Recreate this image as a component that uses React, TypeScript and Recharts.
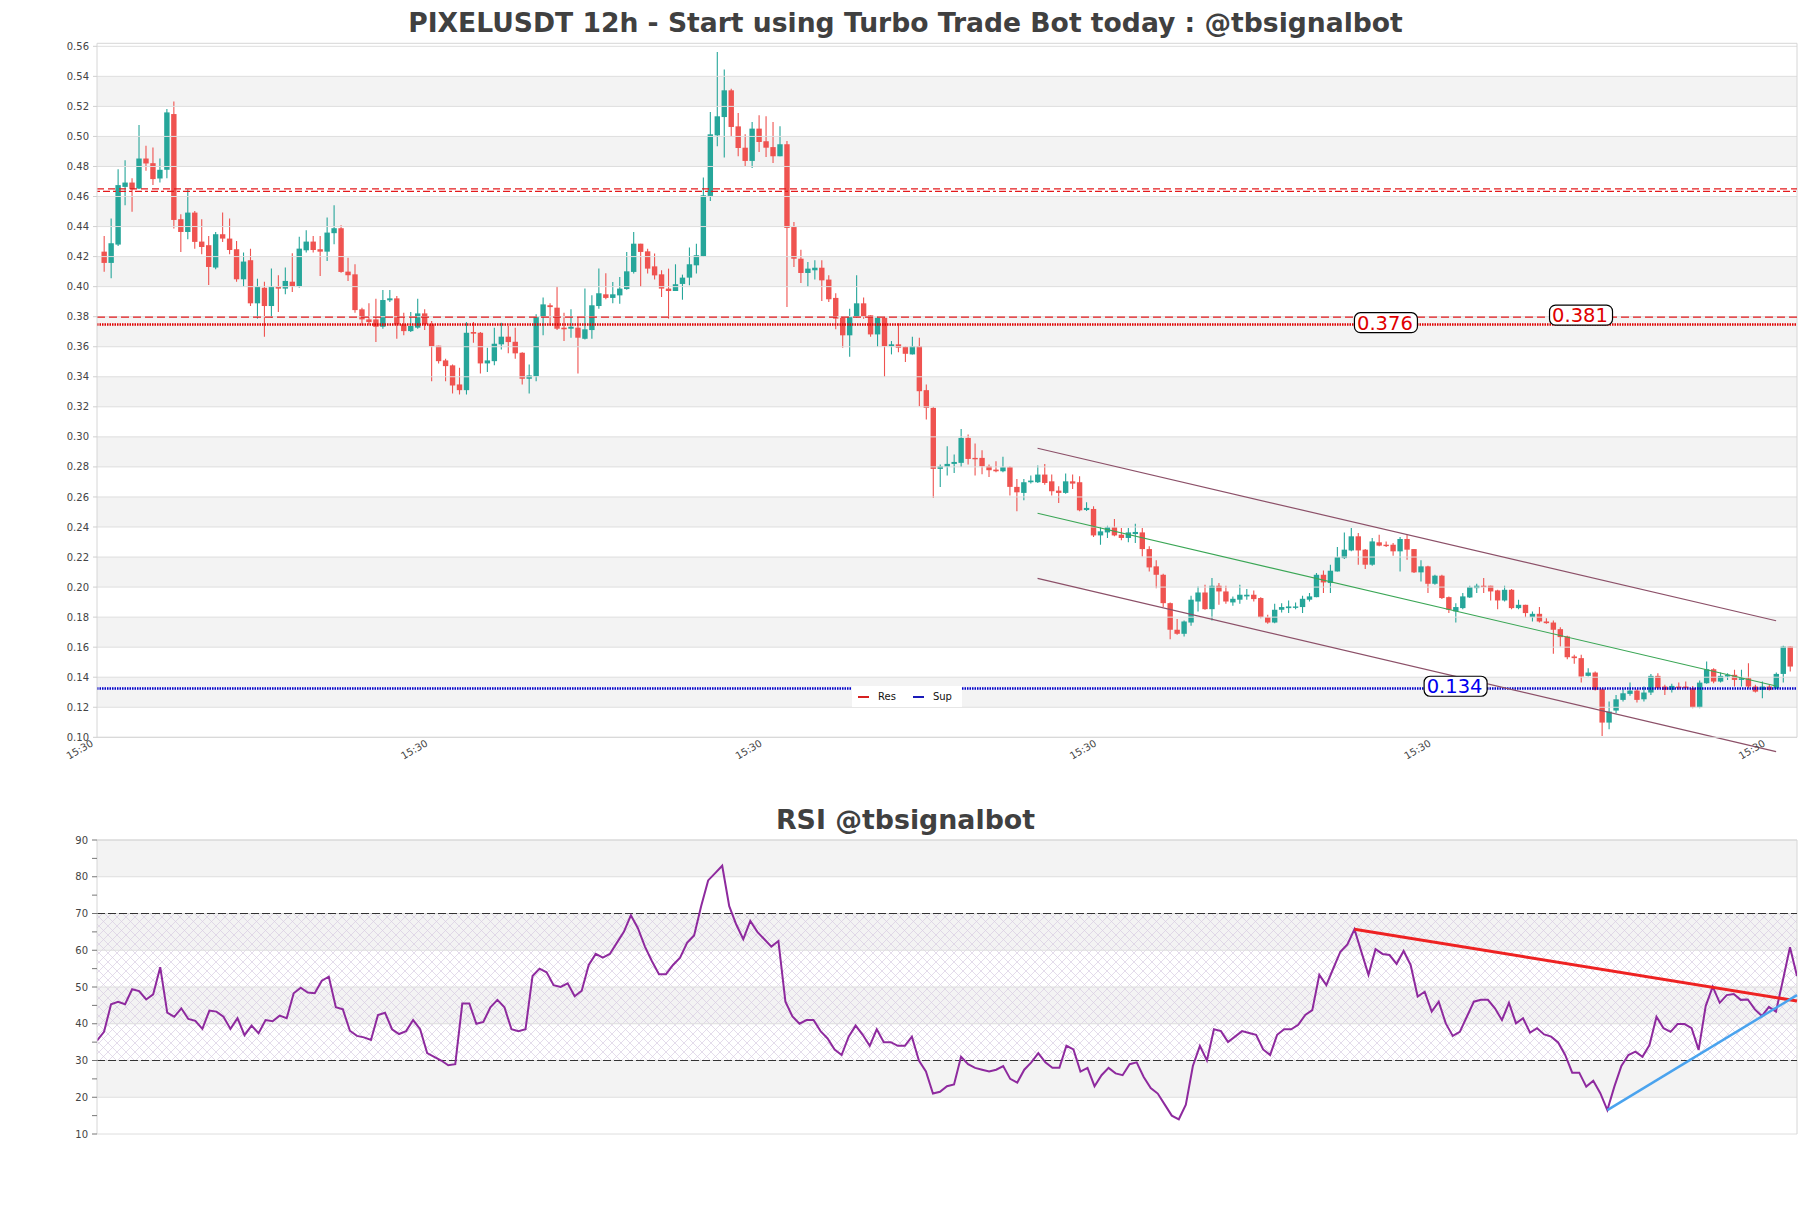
import React from 'react';
import {
  ComposedChart,
  LineChart,
  Line,
  Bar,
  XAxis,
  YAxis,
  ReferenceLine,
  ReferenceArea,
  ReferenceDot,
  Legend,
} from 'recharts';

// ---------------- DATA ----------------
const opens = [
  0.4233, 0.4158, 0.428, 0.4664, 0.4693, 0.4653, 0.4853, 0.4822, 0.472, 0.4778,
  0.5149, 0.4449, 0.4364, 0.4493, 0.43, 0.4276, 0.4127, 0.4349, 0.432, 0.4249,
  0.4049, 0.4176, 0.3889, 0.3993, 0.3871, 0.4, 0.3987, 0.4033, 0.4004, 0.4242,
  0.43, 0.4249, 0.4233, 0.4356, 0.4389, 0.41, 0.4082, 0.3849, 0.3782, 0.3782,
  0.3733, 0.3909, 0.3922, 0.3749, 0.3704, 0.3727, 0.3822, 0.3749, 0.3607, 0.3509,
  0.3476, 0.3349, 0.3311, 0.3698, 0.3693, 0.3489, 0.3504, 0.3616, 0.3667, 0.3633,
  0.356, 0.3387, 0.3404, 0.38, 0.3876, 0.386, 0.3727, 0.372, 0.3727, 0.3653,
  0.3711, 0.3871, 0.3949, 0.3925, 0.3942, 0.3984, 0.4098, 0.4286, 0.4235, 0.4135,
  0.4082, 0.3987, 0.3971, 0.4018, 0.406, 0.4142, 0.4202, 0.4604, 0.5007, 0.5129,
  0.5307, 0.5067, 0.4925, 0.4837, 0.5052, 0.4968, 0.4929, 0.4868, 0.4948, 0.4397,
  0.4186, 0.4091, 0.4109, 0.4126, 0.4047, 0.3925, 0.3793, 0.3676, 0.38, 0.3889,
  0.3809, 0.3682, 0.3793, 0.3604, 0.3616, 0.36, 0.3549, 0.3604, 0.3311, 0.3193,
  0.2787, 0.2802, 0.282, 0.2827, 0.2993, 0.286, 0.286, 0.2804, 0.2782, 0.2771,
  0.2798, 0.2667, 0.2627, 0.2698, 0.2698, 0.2749, 0.2704, 0.2642, 0.2627, 0.2704,
  0.2698, 0.2513, 0.252, 0.2344, 0.2364, 0.2398, 0.2349, 0.2327, 0.2353, 0.2364,
  0.2253, 0.2138, 0.2082, 0.1893, 0.1716, 0.1689, 0.1764, 0.1904, 0.1964, 0.1853,
  0.2009, 0.1971, 0.1898, 0.1916, 0.1938, 0.1949, 0.1927, 0.18, 0.1764, 0.1849,
  0.186, 0.1867, 0.1867, 0.1916, 0.1933, 0.2082, 0.2027, 0.2104, 0.2193, 0.2244,
  0.2338, 0.2249, 0.2149, 0.2298, 0.2282, 0.2282, 0.2238, 0.232, 0.2253, 0.2098,
  0.2138, 0.2022, 0.2076, 0.1933, 0.1838, 0.186, 0.1931, 0.1993, 0.2009, 0.2009,
  0.1978, 0.1911, 0.1982, 0.186, 0.1882, 0.18, 0.1822, 0.1771, 0.1764, 0.172,
  0.1671, 0.1538, 0.1527, 0.1409, 0.1431, 0.132, 0.1098, 0.1178, 0.1249, 0.1289,
  0.1311, 0.1253, 0.1298, 0.1409, 0.1338, 0.1316, 0.1338, 0.1338, 0.1327, 0.12,
  0.136, 0.1453, 0.1371, 0.1404, 0.1416, 0.1382, 0.1393, 0.1338, 0.1316, 0.1338,
  0.1327, 0.1422, 0.1604,
];
const highs = [
  0.4338, 0.4453, 0.4782, 0.4842, 0.4722, 0.5076, 0.4938, 0.4927, 0.4853, 0.5182,
  0.5233, 0.4482, 0.4649, 0.4504, 0.4449, 0.4338, 0.4364, 0.4493, 0.4453, 0.4304,
  0.4227, 0.4253, 0.4053, 0.4033, 0.412, 0.4076, 0.4127, 0.4222, 0.4333, 0.4376,
  0.4338, 0.4338, 0.446, 0.4542, 0.4409, 0.4193, 0.4149, 0.386, 0.3889, 0.392,
  0.3978, 0.3978, 0.3938, 0.3827, 0.3831, 0.392, 0.3849, 0.3771, 0.3607, 0.352,
  0.3482, 0.346, 0.3764, 0.3764, 0.3698, 0.3593, 0.3727, 0.376, 0.3738, 0.3727,
  0.3564, 0.3482, 0.3816, 0.3927, 0.3889, 0.4, 0.3827, 0.3849, 0.38, 0.3987,
  0.3942, 0.412, 0.4089, 0.4031, 0.4064, 0.4231, 0.4364, 0.4286, 0.4253, 0.422,
  0.4109, 0.412, 0.4149, 0.408, 0.426, 0.4286, 0.4726, 0.5163, 0.5562, 0.5445,
  0.5318, 0.5156, 0.5014, 0.5096, 0.5141, 0.5134, 0.5096, 0.5067, 0.497, 0.4431,
  0.4246, 0.4164, 0.4175, 0.4175, 0.4076, 0.3956, 0.38, 0.3853, 0.4076, 0.3927,
  0.3809, 0.3804, 0.38, 0.3638, 0.3756, 0.3604, 0.3667, 0.366, 0.3349, 0.32,
  0.2816, 0.2938, 0.2882, 0.3053, 0.3016, 0.2956, 0.2911, 0.2816, 0.2838, 0.2867,
  0.2804, 0.272, 0.272, 0.2742, 0.2809, 0.282, 0.2749, 0.2671, 0.2756, 0.2749,
  0.2738, 0.2564, 0.2538, 0.24, 0.2409, 0.2453, 0.2393, 0.2393, 0.2422, 0.2393,
  0.2271, 0.2178, 0.2089, 0.1898, 0.1787, 0.1778, 0.1942, 0.2004, 0.2016, 0.206,
  0.2027, 0.2009, 0.1938, 0.2016, 0.1987, 0.1978, 0.1933, 0.1816, 0.1889, 0.1893,
  0.1911, 0.1898, 0.1942, 0.196, 0.2093, 0.2111, 0.2149, 0.2267, 0.2364, 0.2393,
  0.236, 0.2253, 0.2327, 0.2349, 0.2304, 0.2293, 0.2333, 0.2349, 0.2253, 0.2178,
  0.2142, 0.2082, 0.2082, 0.1938, 0.1893, 0.196, 0.2009, 0.2022, 0.206, 0.2009,
  0.1982, 0.2009, 0.1987, 0.1916, 0.1882, 0.1838, 0.1867, 0.1793, 0.1778, 0.1733,
  0.1676, 0.1549, 0.1549, 0.146, 0.1438, 0.1327, 0.1238, 0.1282, 0.132, 0.1364,
  0.132, 0.1338, 0.1422, 0.1427, 0.1349, 0.1356, 0.1364, 0.1371, 0.1342, 0.1378,
  0.1504, 0.146, 0.1431, 0.1427, 0.1449, 0.1449, 0.1493, 0.1349, 0.1371, 0.1349,
  0.1431, 0.1609, 0.1604,
];
const lows = [
  0.41, 0.4056, 0.427, 0.4542, 0.4498, 0.465, 0.4771, 0.4676, 0.4693, 0.4722,
  0.4387, 0.4231, 0.4316, 0.4253, 0.4216, 0.4011, 0.4116, 0.4298, 0.4216, 0.4033,
  0.4, 0.3871, 0.3787, 0.3667, 0.3793, 0.3831, 0.3949, 0.3964, 0.3993, 0.4227,
  0.4227, 0.4071, 0.4171, 0.4282, 0.4093, 0.4038, 0.3827, 0.3742, 0.3749, 0.3631,
  0.372, 0.3898, 0.3653, 0.3676, 0.3698, 0.372, 0.3711, 0.3371, 0.3489, 0.3371,
  0.3289, 0.3282, 0.3282, 0.3627, 0.3422, 0.3431, 0.3476, 0.3582, 0.3556, 0.352,
  0.3349, 0.3289, 0.3371, 0.3676, 0.3742, 0.3711, 0.3638, 0.366, 0.3422, 0.3649,
  0.3653, 0.3853, 0.3916, 0.3889, 0.3887, 0.398, 0.4087, 0.3998, 0.4087, 0.4047,
  0.3931, 0.3787, 0.3971, 0.3913, 0.4009, 0.4087, 0.4197, 0.457, 0.4934, 0.4859,
  0.4996, 0.4868, 0.4801, 0.479, 0.4897, 0.4863, 0.4823, 0.4868, 0.3865, 0.4131,
  0.4024, 0.3998, 0.4047, 0.3905, 0.3898, 0.3716, 0.3593, 0.3533, 0.3793, 0.3787,
  0.3667, 0.36, 0.34, 0.3549, 0.3564, 0.3498, 0.3549, 0.3204, 0.3116, 0.2593,
  0.2667, 0.2742, 0.276, 0.28, 0.2816, 0.2742, 0.2751, 0.2733, 0.2764, 0.2764,
  0.2609, 0.2504, 0.2578, 0.2689, 0.2693, 0.2682, 0.2609, 0.256, 0.2622, 0.2653,
  0.2504, 0.2507, 0.2333, 0.2282, 0.2327, 0.2338, 0.2311, 0.2298, 0.2293, 0.2204,
  0.2104, 0.1993, 0.1867, 0.1653, 0.1682, 0.1671, 0.1742, 0.1838, 0.1849, 0.1778,
  0.1882, 0.1889, 0.1876, 0.1889, 0.1916, 0.1904, 0.1793, 0.1756, 0.176, 0.1831,
  0.1827, 0.1853, 0.1827, 0.1904, 0.1933, 0.196, 0.196, 0.2104, 0.2187, 0.2238,
  0.2149, 0.212, 0.2142, 0.2271, 0.2267, 0.2209, 0.2104, 0.2182, 0.2093, 0.2038,
  0.196, 0.2016, 0.192, 0.1827, 0.1764, 0.1853, 0.1927, 0.196, 0.196, 0.1911,
  0.1853, 0.1904, 0.1853, 0.1853, 0.18, 0.1771, 0.1764, 0.1756, 0.1556, 0.1604,
  0.152, 0.1489, 0.1364, 0.1404, 0.1311, 0.1009, 0.1053, 0.116, 0.1238, 0.1276,
  0.1231, 0.1238, 0.1282, 0.132, 0.1282, 0.1298, 0.1316, 0.1316, 0.1193, 0.1193,
  0.1356, 0.136, 0.1364, 0.1382, 0.1338, 0.1338, 0.1327, 0.1298, 0.126, 0.1311,
  0.132, 0.1364, 0.1438,
];
const closes = [
  0.4158, 0.4289, 0.4676, 0.4693, 0.4649, 0.4853, 0.482, 0.4716, 0.4778, 0.516,
  0.4444, 0.4364, 0.4493, 0.4298, 0.4264, 0.4131, 0.4349, 0.432, 0.4244, 0.4049,
  0.4167, 0.3889, 0.4, 0.3871, 0.4, 0.3987, 0.4038, 0.4004, 0.4253, 0.43,
  0.4244, 0.4233, 0.436, 0.4389, 0.4098, 0.4076, 0.3844, 0.3782, 0.3764, 0.3733,
  0.3911, 0.3922, 0.3749, 0.3704, 0.3738, 0.3822, 0.3749, 0.3604, 0.3504, 0.3471,
  0.3342, 0.3311, 0.3693, 0.3687, 0.3489, 0.3509, 0.362, 0.3667, 0.3631, 0.3556,
  0.3387, 0.3409, 0.38, 0.3882, 0.3864, 0.372, 0.3716, 0.3733, 0.366, 0.3716,
  0.3876, 0.3956, 0.3925, 0.3949, 0.3987, 0.4102, 0.4286, 0.4231, 0.412, 0.4075,
  0.3987, 0.3971, 0.4016, 0.406, 0.4149, 0.4209, 0.4608, 0.5014, 0.5134, 0.5307,
  0.5063, 0.4923, 0.4837, 0.5052, 0.4963, 0.4925, 0.4868, 0.4948, 0.4391, 0.4186,
  0.4091, 0.412, 0.4126, 0.4042, 0.3916, 0.3787, 0.3676, 0.38, 0.3889, 0.38,
  0.3682, 0.3793, 0.3604, 0.3616, 0.3593, 0.3553, 0.3604, 0.3304, 0.3193, 0.2787,
  0.2804, 0.282, 0.2833, 0.2993, 0.2853, 0.2853, 0.2804, 0.2778, 0.2771, 0.2798,
  0.2667, 0.2631, 0.2698, 0.2709, 0.2749, 0.2693, 0.2638, 0.2627, 0.2704, 0.2689,
  0.2511, 0.2527, 0.2344, 0.2371, 0.2398, 0.2344, 0.2327, 0.2364, 0.2367, 0.2253,
  0.2131, 0.2082, 0.1893, 0.1716, 0.1689, 0.1771, 0.1916, 0.1964, 0.1853, 0.2009,
  0.1971, 0.1904, 0.1922, 0.1949, 0.1949, 0.192, 0.18, 0.1764, 0.1849, 0.1867,
  0.1871, 0.1871, 0.1922, 0.1938, 0.2082, 0.2031, 0.2109, 0.22, 0.2249, 0.2338,
  0.2244, 0.2149, 0.2304, 0.2276, 0.2276, 0.2238, 0.232, 0.2249, 0.2098, 0.2138,
  0.2022, 0.2076, 0.1927, 0.1849, 0.1867, 0.1938, 0.2, 0.2009, 0.2, 0.1971,
  0.1911, 0.1982, 0.186, 0.1882, 0.1827, 0.1822, 0.1771, 0.176, 0.1716, 0.1667,
  0.1533, 0.1527, 0.1404, 0.1431, 0.1316, 0.1098, 0.1171, 0.1253, 0.1293, 0.1311,
  0.1249, 0.1298, 0.1409, 0.1327, 0.1316, 0.1342, 0.1327, 0.1327, 0.12, 0.1364,
  0.1453, 0.1371, 0.1409, 0.1416, 0.1382, 0.1393, 0.1338, 0.1304, 0.1338, 0.1316,
  0.1422, 0.1604, 0.1471,
];

const rsiValues = [
  35.4, 37.8, 45.3, 46.0, 45.3, 49.4, 48.9, 46.6, 48.0, 55.4,
  43.0, 41.9, 44.2, 41.3, 40.8, 38.6, 43.6, 43.3, 41.9, 38.6,
  41.5, 36.9, 39.5, 37.4, 41.0, 40.7, 42.2, 41.5, 48.3, 49.8,
  48.5, 48.3, 51.7, 52.8, 44.5, 43.9, 38.1, 36.7, 36.3, 35.6,
  42.4, 43.0, 38.5, 37.2, 38.0, 41.0, 38.5, 32.0, 31.0, 30.0,
  28.7, 29.0, 45.5, 45.5, 40.0, 40.5, 44.5, 46.5, 44.5, 38.5,
  38.0, 38.5, 53.0, 55.0, 54.0, 50.5, 50.0, 51.0, 47.5, 49.0,
  56.0, 59.0, 58.0, 59.0, 62.0, 65.0, 69.5, 66.0, 61.0, 57.0,
  53.5, 53.5, 56.0, 58.0, 62.0, 64.0, 72.0, 79.0, 81.0, 83.0,
  72.0, 67.0, 63.0, 68.0, 65.0, 63.0, 61.0, 62.5, 46.0, 42.0,
  40.0, 41.0, 41.0, 38.0, 36.0, 33.0, 31.5, 36.5, 39.5, 37.0,
  34.0, 38.5, 35.0, 35.0, 34.0, 34.0, 36.5, 30.0, 27.0, 21.0,
  21.5, 23.0, 23.5, 31.0, 29.0, 28.0, 27.5, 27.0, 27.5, 28.5,
  25.0, 24.0, 27.5, 29.5, 32.0, 29.5, 28.0, 28.0, 34.0, 33.0,
  27.0, 28.0, 23.0, 26.0, 28.0, 26.5, 26.0, 29.0, 29.5, 25.5,
  22.5, 21.0, 18.0, 15.0, 14.0, 18.0, 28.5, 34.0, 30.0, 38.5,
  38.0, 35.0, 36.5, 38.0, 37.5, 37.0, 33.0, 31.5, 37.0, 38.5,
  38.5, 39.7, 42.4, 43.7, 53.3, 50.5, 55.1, 59.6, 61.6, 65.7,
  59.5, 53.3, 60.3, 59.0, 58.7, 56.3, 59.8, 56.0, 47.4, 48.7,
  43.3, 46.0, 40.1, 36.7, 37.8, 41.9, 46.0, 46.5, 46.5, 44.2,
  41.0, 45.7, 40.1, 41.5, 37.6, 38.8, 37.1, 36.5, 34.9, 31.5,
  26.7, 26.7, 22.9, 24.5, 21.1, 16.5, 22.9, 28.5, 31.5, 32.4,
  31.0, 34.2, 41.9, 38.8, 37.8, 39.9, 39.9, 38.8, 32.9, 44.8,
  50.1, 45.7, 47.8, 48.1, 46.5, 46.6, 43.9, 42.1, 44.6, 43.3,
  51.9, 60.8, 53.0,
];

const priceTicks = [
  0.1, 0.12, 0.14, 0.16, 0.18, 0.2, 0.22, 0.24, 0.26, 0.28, 0.3, 0.32,
  0.34, 0.36, 0.38, 0.4, 0.42, 0.44, 0.46, 0.48, 0.5, 0.52, 0.54, 0.56,
];
const priceDomain = [0.1, 0.562];
const xTicks = [-1, 47, 95, 143, 191, 239];
const xDomain = [-1, 243];
const xTickLabel = '15:30';

const rsiTicks = [10, 15, 20, 25, 30, 35, 40, 45, 50, 55, 60, 65, 70, 75, 80, 85, 90];
const rsiMajorTicks = [10, 20, 30, 40, 50, 60, 70, 80, 90];
const rsiOverbought = 70;
const rsiOversold = 30;

// Resistance / support levels
const resDoubleA = 0.4651;
const resDoubleB = 0.4634;
const resDashed = 0.3797;
const resDotted = 0.3748;
const supDotted = 0.1325;

const levelTags = [
  { x: 184, y: 0.376, text: '0.376', color: '#e00000' },
  { x: 212, y: 0.381, text: '0.381', color: '#e00000' },
  { x: 194, y: 0.134, text: '0.134', color: '#0000ee' },
];

// Channel (start idx, start price) -> (end idx, end price)
const channelUpper = [
  { x: 134, y: 0.2924 },
  { x: 240, y: 0.1776 },
];
const channelMiddle = [
  { x: 134, y: 0.2491 },
  { x: 240, y: 0.1342 },
];
const channelLower = [
  { x: 134, y: 0.2058 },
  { x: 240, y: 0.0905 },
];

const rsiResTrend = [
  { x: 179, y: 65.7 },
  { x: 242, y: 46.2 },
];
const rsiSupTrend = [
  { x: 215, y: 16.5 },
  { x: 242, y: 47.8 },
];

// ---------------- STYLE ----------------
const UP = '#26a69a';
const DOWN = '#ef5350';
const FONT = 'DejaVu Sans';
const BAND = '#f3f3f3';
const GRID = '#dedede';
const TEXT = '#444444';

const candles = opens.map((o, i) => ({
  idx: i,
  range: [lows[i], highs[i]],
  open: o,
  high: highs[i],
  low: lows[i],
  close: closes[i],
}));

const rsiData = rsiValues.map((v, i) => ({ i, rsi: v }));

const priceBands: [number, number][] = [];
for (let k = 1; k + 1 < priceTicks.length; k += 2) priceBands.push([priceTicks[k], priceTicks[k + 1]]);
const rsiBands: [number, number][] = [];
for (let k = 1; k + 1 < rsiMajorTicks.length; k += 2) rsiBands.push([rsiMajorTicks[k], rsiMajorTicks[k + 1]]);

const Candle = (props: any) => {
  const { x, y, width, height, payload } = props;
  if (x == null || y == null || !payload) return null;
  const { open, close, high, low } = payload;
  const cx = x + width / 2;
  const yTop = Math.min(y, y + height);
  const yBot = Math.max(y, y + height);
  const span = high - low;
  const pix = (v: number) => (span > 0 ? yTop + ((high - v) / span) * (yBot - yTop) : yTop);
  const color = close >= open ? UP : DOWN;
  const bTop = pix(Math.max(open, close));
  const bBot = pix(Math.min(open, close));
  const bw = 5.4;
  return (
    <g>
      <line x1={cx} x2={cx} y1={yTop} y2={yBot} stroke={color} strokeWidth={1.1} />
      <rect x={cx - bw / 2} y={bTop} width={bw} height={Math.max(bBot - bTop, 1.4)} fill={color} />
    </g>
  );
};

const XTick = (props: any) => {
  const { x, y } = props;
  const ax = x - 3;
  return (
    <text
      x={ax}
      y={y}
      transform={`rotate(-30 ${ax} ${y})`}
      textAnchor="end"
      fontSize={10}
      fill={TEXT}
      fontFamily={FONT}
    >
      {xTickLabel}
    </text>
  );
};

const RsiTick = (props: any) => {
  const { x, y, payload } = props;
  if (!rsiMajorTicks.includes(payload.value)) return null;
  return (
    <text x={x} y={y} dy={3.5} textAnchor="end" fontSize={10} fill={TEXT} fontFamily={FONT}>
      {payload.value}
    </text>
  );
};

const LevelTag = (props: any) => {
  const { cx, cy, text, color } = props;
  if (cx == null || cy == null) return null;
  const w = 63;
  const h = 20;
  return (
    <g>
      <rect x={cx - w / 2} y={cy - h / 2} width={w} height={h} rx={6} fill="#ffffff" stroke="#000000" strokeWidth={1.2} />
      <text x={cx - 1} y={cy} dy={7} textAnchor="middle" fontSize={19.5} fill={color} fontFamily={FONT}>
        {text}
      </text>
    </g>
  );
};

const LegendBox = () => (
  <div
    style={{
      width: 110,
      height: 21,
      background: '#ffffff',
      display: 'flex',
      alignItems: 'center',
      fontFamily: FONT,
      fontSize: 10,
      color: '#111',
      boxSizing: 'border-box',
      paddingLeft: 6,
    }}
  >
    <span style={{ display: 'inline-block', width: 11, height: 2, background: '#d62020', marginRight: 9 }} />
    <span style={{ marginRight: 17 }}>Res</span>
    <span style={{ display: 'inline-block', width: 11, height: 2, background: '#1a1ab8', marginRight: 9 }} />
    <span>Sup</span>
  </div>
);

const titleStyle: React.CSSProperties = {
  position: 'absolute',
  left: 0,
  width: 1811,
  textAlign: 'center',
  fontFamily: FONT,
  fontWeight: 'bold',
  lineHeight: '30px',
  color: '#404040',
  whiteSpace: 'nowrap',
};

export default function App() {
  return (
    <div style={{ position: 'absolute', left: 0, top: 0, width: 1811, height: 1208, background: '#ffffff' }}>
      <svg width={0} height={0} style={{ position: 'absolute' }}>
        <defs>
          <pattern id="rsiHatch" width={9} height={9} patternUnits="userSpaceOnUse">
            <path d="M0 0 L9 9 M9 0 L0 9" stroke="#d9cde2" strokeWidth={0.7} fill="none" />
          </pattern>
        </defs>
      </svg>

      <div style={{ ...titleStyle, top: 8, fontSize: 26.6 }}>
        PIXELUSDT 12h - Start using Turbo Trade Bot today : @tbsignalbot
      </div>

      <div style={{ position: 'absolute', left: 0, top: 0 }}>
        <ComposedChart
          width={1811}
          height={800}
          data={candles}
          margin={{ top: 43.3, right: 14, bottom: 22.7, left: 0 }}
        >
          <XAxis
            dataKey="idx"
            type="number"
            domain={xDomain}
            ticks={xTicks}
            interval={0}
            allowDataOverflow
            height={40}
            tickSize={6}
            tickLine={false}
            axisLine={{ stroke: '#d6d6d6' }}
            tick={<XTick />}
          />
          <YAxis
            type="number"
            domain={priceDomain}
            ticks={priceTicks}
            interval={0}
            allowDataOverflow
            width={97}
            tickSize={4}
            tickMargin={4}
            tickLine={{ stroke: '#cfcfcf' }}
            axisLine={{ stroke: '#d6d6d6' }}
            tickFormatter={(v: number) => v.toFixed(2)}
            tick={{ fontSize: 10, fill: TEXT, fontFamily: FONT }}
          />
          {priceBands.map(([a, b]) => (
            <ReferenceArea key={`pb${a}`} y1={a} y2={b} x1={xDomain[0]} x2={xDomain[1]} fill={BAND} fillOpacity={1} stroke="none" />
          ))}
          {priceTicks.map((t) => (
            <ReferenceLine key={`pg${t}`} y={t} stroke={GRID} strokeWidth={1} />
          ))}
          <ReferenceLine y={priceDomain[1]} stroke="#d6d6d6" />
          <ReferenceLine x={xDomain[1]} stroke="#d6d6d6" />

          <ReferenceLine y={resDoubleA} stroke="#e41a1c" strokeWidth={1.4} strokeDasharray="7 4" />
          <ReferenceLine y={resDoubleB} stroke="#e41a1c" strokeWidth={1.4} strokeDasharray="3 3 7 3" />
          <ReferenceLine y={resDashed} stroke="#e41a1c" strokeWidth={1.4} strokeDasharray="8 4" />
          <ReferenceLine y={resDotted} stroke="#e00000" strokeWidth={2.4} strokeDasharray="1.5 1" />
          <ReferenceLine y={supDotted} stroke="#0000cc" strokeWidth={2.4} strokeDasharray="1.5 1" />

          <ReferenceLine segment={channelUpper} stroke="#8c5068" strokeWidth={1.2} ifOverflow="visible" />
          <ReferenceLine segment={channelMiddle} stroke="#3aa655" strokeWidth={1.1} ifOverflow="visible" />
          <ReferenceLine segment={channelLower} stroke="#8c5068" strokeWidth={1.2} ifOverflow="visible" />

          <Bar dataKey="range" shape={<Candle />} isAnimationActive={false} />

          {levelTags.map((t) => (
            <ReferenceDot
              key={t.text}
              x={t.x}
              y={t.y}
              r={1}
              ifOverflow="visible"
              shape={(p: any) => <LevelTag {...p} text={t.text} color={t.color} />}
            />
          ))}
          <Legend
            layout="horizontal"
            verticalAlign="middle"
            align="center"
            content={() => <LegendBox />}
            wrapperStyle={{ position: 'absolute', left: 852, top: 686, width: 110, height: 21 }}
          />
        </ComposedChart>
      </div>

      <div style={{ ...titleStyle, top: 805, fontSize: 26.8 }}>RSI @tbsignalbot</div>

      <div style={{ position: 'absolute', left: 0, top: 800 }}>
        <LineChart width={1811} height={360} data={rsiData} margin={{ top: 40, right: 14, bottom: 26, left: 0 }}>
          <XAxis dataKey="i" type="number" domain={[0, rsiValues.length - 1]} hide allowDataOverflow />
          <YAxis
            type="number"
            domain={[10, 90]}
            ticks={rsiTicks}
            interval={0}
            allowDataOverflow
            width={97}
            tickSize={5}
            tickMargin={4}
            tickLine={{ stroke: '#777777' }}
            axisLine={{ stroke: '#d6d6d6' }}
            tick={<RsiTick />}
          />
          {rsiBands.map(([a, b]) => (
            <ReferenceArea key={`rb${a}`} y1={a} y2={b} fill={BAND} fillOpacity={1} stroke="none" />
          ))}
          <ReferenceArea y1={rsiOversold} y2={rsiOverbought} fill="url(#rsiHatch)" fillOpacity={1} stroke="none" />
          {rsiMajorTicks.map((t) => (
            <ReferenceLine key={`rg${t}`} y={t} stroke={GRID} strokeWidth={1} />
          ))}
          <ReferenceLine y={90} stroke="#d6d6d6" />
          <ReferenceLine x={rsiValues.length - 1} stroke="#d6d6d6" />
          <ReferenceLine y={rsiOverbought} stroke="#333333" strokeWidth={1.2} strokeDasharray="8 3" />
          <ReferenceLine y={rsiOversold} stroke="#333333" strokeWidth={1.2} strokeDasharray="8 3" />
          <Line dataKey="rsi" stroke="#8e2a9e" strokeWidth={2} dot={false} isAnimationActive={false} />
          <ReferenceLine segment={rsiResTrend} stroke="#ee2222" strokeWidth={3} ifOverflow="visible" />
          <ReferenceLine segment={rsiSupTrend} stroke="#4aa3ee" strokeWidth={2.5} ifOverflow="visible" />
        </LineChart>
      </div>
    </div>
  );
}
